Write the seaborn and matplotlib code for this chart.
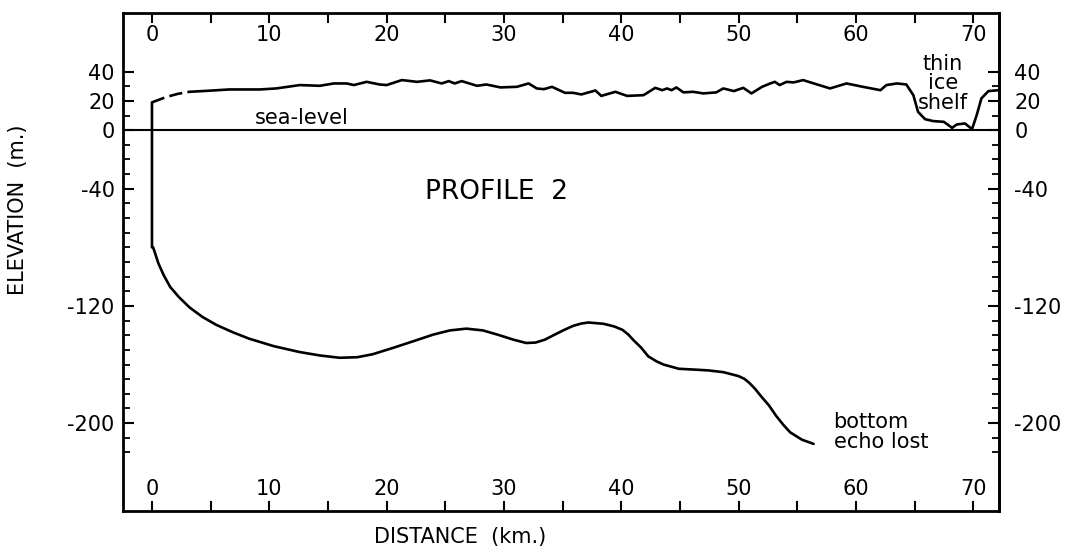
import matplotlib
matplotlib.use("Agg")
import matplotlib.pyplot as plt
import seaborn as sns

# --- Data (distance km, elevation m) ---
# ice surface, dashed start near the ice front
surf_dash_x = [0.0, 1.2, 2.2, 3.2]
surf_dash_y = [19.0, 22.6, 24.8, 26.2]

# ice surface, solid
surf_x = [3.2, 5.0, 6.6, 9.2, 10.6, 12.6, 14.3, 15.5, 16.6, 17.2, 18.3, 19.4, 20.0,
          21.3, 22.6, 23.7, 24.7, 25.3, 25.8, 26.4, 27.7, 28.5, 29.7, 31.1, 32.1,
          32.8, 33.4, 34.1, 35.2, 35.9, 36.6, 37.8, 38.3, 39.5, 40.5, 41.9, 42.9,
          43.5, 43.9, 44.3, 44.7, 45.3, 46.1, 47.0, 48.1, 48.7, 49.6, 50.4, 51.1,
          52.0, 52.7, 53.1, 53.5, 54.1, 54.7, 55.5, 56.7, 57.8, 59.2, 60.6, 62.1,
          62.6, 63.5, 64.3, 64.9, 65.3, 65.9, 66.6, 67.5, 68.2, 68.6, 69.3, 69.9,
          70.3, 70.7, 71.3, 72.2]
surf_y = [26.2, 27.0, 27.8, 27.8, 28.5, 30.8, 30.3, 31.9, 31.9, 30.8, 33.0, 31.2, 30.8,
          34.2, 33.0, 34.0, 31.9, 33.5, 31.9, 33.5, 30.3, 31.2, 29.2, 29.6, 31.9,
          28.5, 28.0, 29.6, 25.5, 25.5, 24.4, 27.1, 23.4, 26.2, 23.4, 23.9, 28.9,
          27.3, 28.5, 27.3, 29.2, 25.8, 26.2, 25.1, 25.8, 28.5, 26.7, 28.9, 25.1,
          29.6, 31.9, 33.0, 30.8, 33.0, 32.6, 34.2, 31.2, 28.5, 31.9, 29.6, 27.3,
          30.8, 31.9, 31.2, 23.9, 12.5, 7.5, 6.2, 5.7, 1.6, 3.9, 4.6, 0.7,
          10.3, 21.7, 26.7, 27.3]

# ice front and bottom echo
bed_x = [0.0, 0.0, 0.1, 0.55, 1.0, 1.55, 2.3, 3.2, 4.3, 5.5, 6.9, 8.3, 10.4, 12.6,
         14.3, 16.0, 17.5, 18.8, 20.6, 22.5, 24.0, 25.4, 26.8, 28.2, 29.5, 30.8,
         31.9, 32.7, 33.5, 34.3, 35.1, 35.9, 36.6, 37.2, 38.5, 39.4, 40.1, 40.6,
         41.0, 41.7, 42.3, 43.0, 43.6, 44.9, 46.1, 47.4, 48.7, 50.0, 50.5, 50.9,
         51.4, 51.9, 52.6, 53.2, 53.8, 54.4, 55.4, 56.4]
bed_y = [19.0, -80.0, -80.0, -91.0, -99.0, -107.0, -114.0, -121.0, -127.5, -133.0,
         -138.0, -142.4, -147.5, -151.5, -153.8, -155.4, -155.0, -153.0, -148.5,
         -143.5, -139.5, -136.7, -135.5, -136.7, -139.7, -143.0, -145.3, -145.0,
         -143.0, -139.7, -136.5, -133.6, -132.0, -131.3, -132.2, -134.0, -136.3,
         -139.5, -143.0, -148.5, -154.4, -157.8, -160.0, -162.9, -163.4, -164.0,
         -165.2, -167.9, -169.8, -172.4, -176.5, -181.5, -188.0, -195.0, -201.0,
         -206.3, -211.3, -214.2]

x_ticks = [0, 10, 20, 30, 40, 50, 60, 70]
x_minor = [5, 15, 25, 35, 45, 55, 65]
y_ticks = [-200, -120, -40, 0, 20, 40]
y_tick_labels = ["-200", "-120", "-40", "0", "20", "40"]

sns.set_style("ticks")
plt.rcParams["axes.unicode_minus"] = False
plt.rcParams["font.family"] = ["DejaVu Sans"]
for key in ["text.color", "axes.labelcolor", "xtick.color", "ytick.color", "axes.edgecolor"]:
    plt.rcParams[key] = "black"

fig, ax = plt.subplots(figsize=(10.88, 5.49), dpi=100)
fig.subplots_adjust(left=123 / 1088, right=999 / 1088, bottom=38 / 549, top=536 / 549)

lw = 1.9
sns.lineplot(x=surf_dash_x, y=surf_dash_y, estimator=None, sort=False, color="black",
             lw=lw, linestyle=(0, (5, 2)), ax=ax)
sns.lineplot(x=surf_x, y=surf_y, estimator=None, sort=False, color="black", lw=lw, ax=ax)
sns.lineplot(x=bed_x, y=bed_y, estimator=None, sort=False, color="black", lw=lw, ax=ax)
ax.axhline(0, color="black", lw=1.5)

# x ticks inward on top and bottom, labels inside the frame
ax.set_xticks(x_ticks)
ax.set_xticks(x_minor, minor=True)
ax.tick_params(axis="x", which="both", direction="in", top=True, bottom=True,
               length=7, width=1.5)
ax.tick_params(axis="x", which="major", labeltop=True, labelbottom=True,
               labelsize=15, pad=-23)

# y ticks inward, labels outside
ax.set_yticks(y_ticks)
ax.set_yticklabels(y_tick_labels)
y_minor = [v for v in range(-220, 41, 10) if v not in y_ticks]
ax.set_yticks(y_minor, minor=True)
ax.tick_params(axis="y", which="major", direction="in", left=True, right=False,
               length=8, width=1.5, labelsize=15, pad=6)
ax.tick_params(axis="y", which="minor", direction="in", left=True, right=False,
               length=5, width=1.3)

ax.set_xlim(-2.47, 72.2)
ax.set_ylim(-260, 80)

sec = ax.secondary_yaxis("right")
sec.set_yticks(y_ticks)
sec.set_yticklabels(y_tick_labels)
sec.set_yticks(y_minor, minor=True)
sec.tick_params(axis="y", which="major", direction="in", length=8, width=1.5,
                labelsize=15, pad=11)
sec.tick_params(axis="y", which="minor", direction="in", length=5, width=1.3)
sec.spines["right"].set_linewidth(2.0)

for s in ax.spines.values():
    s.set_linewidth(2.0)
    s.set_color("black")

ax.set_xlabel("DISTANCE  (km.)", fontsize=15)
ax.xaxis.set_label_coords(0.385, -0.033)
ax.set_ylabel("ELEVATION  (m.)", fontsize=15)
ax.yaxis.set_label_coords(-0.109, 0.604)

ax.text(12.8, 8, "sea-level", ha="center", va="center", fontsize=15)
ax.text(29.4, -42, "PROFILE  2", ha="center", va="center", fontsize=19)
ax.text(67.4, 32, "thin\nice\nshelf", ha="center", va="center", fontsize=15,
        linespacing=0.95)
ax.text(58.1, -206, "bottom\necho lost", ha="left", va="center", fontsize=15,
        linespacing=0.95)

plt.savefig("out.png", dpi=100)
